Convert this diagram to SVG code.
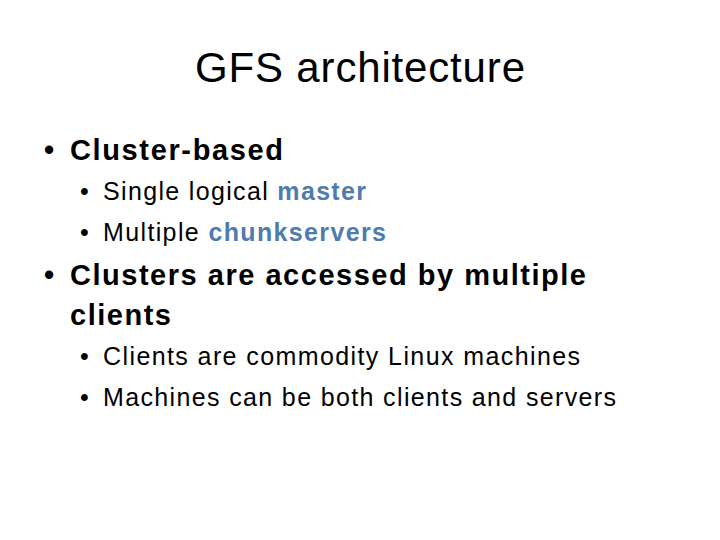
<svg xmlns="http://www.w3.org/2000/svg" width="720" height="540" viewBox="0 0 720 540">
<style>
text{font-family:"Liberation Sans",Arial,sans-serif;fill:#000}
.t{font-size:42px}
.l1{font-size:29px;font-weight:bold}
.l2{font-size:25px}
.hl{fill:#4F7BB0;font-weight:bold}
</style>
<rect width="720" height="540" fill="#fff"/>
<text class="t" x="195" y="82" textLength="330">GFS architecture</text>
<text class="l1" x="44" y="160">•</text><text class="l1" x="70" y="160" textLength="213">Cluster-based</text>
<text class="l2" x="80" y="200">•</text><text class="l2" x="103" y="200" textLength="263">Single logical <tspan class="hl">master</tspan></text>
<text class="l2" x="80" y="241">•</text><text class="l2" x="103" y="241" textLength="283">Multiple <tspan class="hl">chunkservers</tspan></text>
<text class="l1" x="44" y="285">•</text><text class="l1" x="70" y="285" textLength="516">Clusters are accessed by multiple</text>
<text class="l1" x="70" y="325" textLength="101">clients</text>
<text class="l2" x="80" y="365">•</text><text class="l2" x="103" y="365" textLength="477">Clients are commodity Linux machines</text>
<text class="l2" x="80" y="406">•</text><text class="l2" x="103" y="406" textLength="513">Machines can be both clients and servers</text>
</svg>
